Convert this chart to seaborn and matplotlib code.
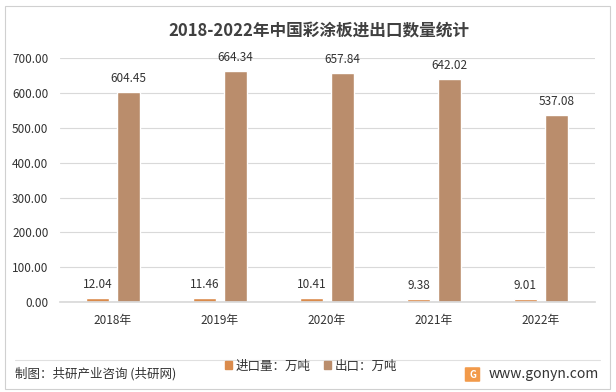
import pandas as pd
import seaborn as sns
import matplotlib.pyplot as plt
from matplotlib.ticker import FormatStrFormatter, MultipleLocator
from matplotlib.patches import Rectangle, FancyBboxPatch

# 数据
years = ['2018年', '2019年', '2020年', '2021年', '2022年']
import_vals = [12.04, 11.46, 10.41, 9.38, 9.01]
export_vals = [604.45, 664.34, 657.84, 642.02, 537.08]
series_names = ['进口量：万吨', '出口：万吨']
colors = ['#DA8B4C', '#BA8D6C']

df = pd.DataFrame({
    '年份': years * 2,
    '类型': [series_names[0]] * 5 + [series_names[1]] * 5,
    '数量': import_vals + export_vals,
})

sns.set_theme(style='white')
plt.rcParams['font.family'] = ['Noto Sans CJK SC', 'DejaVu Sans']

fig = plt.figure(figsize=(6.16, 3.92), dpi=100)
ax = fig.add_axes([0.0966, 0.2296, 0.8685, 0.6215])

sns.barplot(data=df, x='年份', y='数量', hue='类型', palette=colors,
            width=0.58, gap=0.24, saturation=1, ax=ax, legend=False)

for cont in ax.containers:
    ax.bar_label(cont, fmt='%.2f', padding=5, fontsize=8.5, color='#333333',
                 fontweight='medium')

ax.set_ylim(0, 700)
ax.yaxis.set_major_locator(MultipleLocator(100))
ax.yaxis.set_major_formatter(FormatStrFormatter('%.2f'))
ax.grid(axis='y', color='#D9D9D9', linewidth=0.8)
ax.set_axisbelow(True)
for s in ['top', 'left', 'right']:
    ax.spines[s].set_visible(False)
ax.spines['bottom'].set_color('#D9D9D9')
ax.tick_params(axis='both', length=0, labelsize=8.5, labelcolor='#333333')
ax.tick_params(axis='y', pad=8)
ax.tick_params(axis='x', pad=9)
for lbl in ax.get_xticklabels() + ax.get_yticklabels():
    lbl.set_fontweight('medium')
ax.set_xlabel('')
ax.set_ylabel('')

# 标题
fig.text(0.518, 1 - 30 / 392, '2018-2022年中国彩涂板进出口数量统计', ha='center', va='center',
         fontsize=12, fontweight='bold', color='#404040')

# 图例
handles = [Rectangle((0, 0), 1, 1, color=c) for c in colors]
fig.legend(handles, series_names, loc='center',
           bbox_to_anchor=(311 / 616, 1 - 366 / 392), ncol=2, frameon=False,
           fontsize=9, handlelength=0.6, handleheight=0.6, handletextpad=0.3,
           columnspacing=1.0, labelcolor='#333333')

# 底部
fig.add_artist(plt.Line2D([15 / 616, 600 / 616], [1 - 360 / 392] * 2, color='#E0E0E0', lw=0.8))
fig.text(15 / 616, 1 - 374 / 392, '制图：共研产业咨询 (共研网)', ha='left', va='center',
         fontsize=9, color='#333333')
fig.text(489 / 616, 1 - 374 / 392, 'www.gonyn.com', ha='left', va='center',
         fontsize=10, color='#333333')
fig.add_artist(FancyBboxPatch((466 / 616, 1 - 381 / 392), 13 / 616, 13 / 392,
                              boxstyle='round,pad=0.002', color='#F29A4A', lw=0))
fig.text(472.5 / 616, 1 - 374.5 / 392, 'G', ha='center', va='center', fontsize=7,
         fontweight='bold', color='white')

# 外框
fig.add_artist(Rectangle((5 / 616, 1 - 389 / 392), 605 / 616, 383 / 392,
                         fill=False, edgecolor='#D0D0D0', lw=0.8))

fig.savefig('out.png', dpi=100)
